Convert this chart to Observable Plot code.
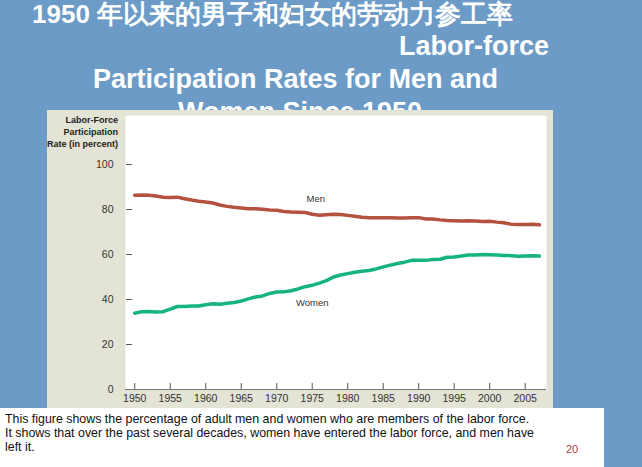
<!DOCTYPE html>
<html><head><meta charset="utf-8">
<script src="https://cdn.jsdelivr.net/npm/d3@7"></script>
<script src="https://cdn.jsdelivr.net/npm/@observablehq/plot@0.6"></script>
<style>
body{margin:0;width:642px;height:467px;background:#6b9bc6;position:relative;overflow:hidden;font-family:"Liberation Sans",Arial,sans-serif}
.t{position:absolute;color:#fff;font-weight:bold;font-size:27px;white-space:nowrap}
#panel{position:absolute;left:47px;top:110px;width:506px;height:298px;background:#e3e3d6}
#ylab{position:absolute;left:0;width:71px;top:4px;font-size:9px;font-weight:bold;text-align:right;line-height:12px;color:#222;white-space:nowrap}
#cap{position:absolute;left:0;top:408px;width:604px;height:59px;background:#fff;font-size:12.4px;line-height:14px;padding:4px 5px;box-sizing:border-box;color:#111;white-space:nowrap}
#pg{position:absolute;left:566px;top:443px;font-size:11px;color:#b04040}
</style></head><body>
<div class="t" style="left:32px;top:-3px;font-size:26px">1950 年以来的男子和妇女的劳动力参工率</div>
<div class="t" style="left:399px;top:31px">Labor-force</div>
<div class="t" style="left:93px;top:64px">Participation Rates for Men and</div>
<div class="t" style="left:178px;top:97px">Women Since 1950</div>
<div id="panel"><div id="ylab">Labor-Force<br>Participation<br>Rate (in percent)</div></div>
<div id="cap">This figure shows the percentage of adult men and women who are members of the labor force.<br>It shows that over the past several decades, women have entered the labor force, and men have<br>left it.</div>
<div id="pg">20</div>
<script>
const years = d3.range(1950, 2008);
const men = [86.4,86.5,86.3,86.0,85.5,85.4,85.5,84.8,84.2,83.7,83.3,82.9,82.0,81.4,81.0,80.7,80.4,80.4,80.1,79.8,79.7,79.1,78.9,78.8,78.7,77.9,77.5,77.7,77.9,77.8,77.4,77.0,76.6,76.4,76.4,76.3,76.3,76.2,76.2,76.4,76.4,75.8,75.8,75.4,75.1,75.0,74.9,75.0,74.9,74.7,74.8,74.4,74.1,73.5,73.3,73.3,73.5,73.2];
const women = [33.9,34.6,34.7,34.4,34.6,35.7,36.9,36.9,37.1,37.1,37.7,38.1,37.9,38.3,38.7,39.3,40.3,41.1,41.6,42.7,43.3,43.4,43.9,44.7,45.7,46.3,47.3,48.4,50.0,50.9,51.5,52.1,52.6,52.9,53.6,54.5,55.3,56.0,56.6,57.4,57.5,57.4,57.8,57.9,58.8,58.9,59.3,59.8,59.8,60.0,59.9,59.8,59.6,59.5,59.2,59.3,59.4,59.3];
const xTicks = d3.range(1950, 2006, 5);
const yTicks = [0, 20, 40, 60, 80, 100];
const labels = [{year: 1975.5, v: 84.5, text: "Men"}, {year: 1975, v: 38.5, text: "Women"}];
const menData = years.map((year, i) => ({year, v: men[i]}));
const womenData = years.map((year, i) => ({year, v: women[i]}));

const chart = Plot.plot({
  width: 506, height: 298,
  marginLeft: 78, marginRight: 7, marginTop: 5, marginBottom: 19,
  x: {domain: [1948.7, 2008]},
  y: {domain: [0, 121.8]},
  style: {background: "transparent", fontFamily: "Liberation Sans, Arial, sans-serif", fontSize: "10.5px", color: "#333"},
  marks: [
    Plot.frame({fill: "white", stroke: null}),
    Plot.axisX({ticks: xTicks, tickFormat: "d", tickSize: 0, tickPadding: 5, label: null}),
    Plot.axisX({ticks: xTicks, text: null, tickSize: 6, dy: -6, stroke: "#555", label: null}),
    Plot.axisY({ticks: yTicks, tickSize: 0, tickPadding: 12, label: null}),
    Plot.axisY({ticks: yTicks, text: null, tickSize: 6, dx: 7, stroke: "#555", label: null}),
    Plot.ruleY([0], {stroke: "#777"}),
    Plot.line(menData, {x: "year", y: "v", stroke: "#b5523f", strokeWidth: 3.5}),
    Plot.line(womenData, {x: "year", y: "v", stroke: "#14b47c", strokeWidth: 3.5}),
    Plot.text(labels, {x: "year", y: "v", text: "text", fontSize: 9.5, fill: "#333"})
  ]
});
document.getElementById("panel").append(chart);
chart.style.position = "absolute";
chart.style.left = "0";
chart.style.top = "0";
</script>
</body></html>
